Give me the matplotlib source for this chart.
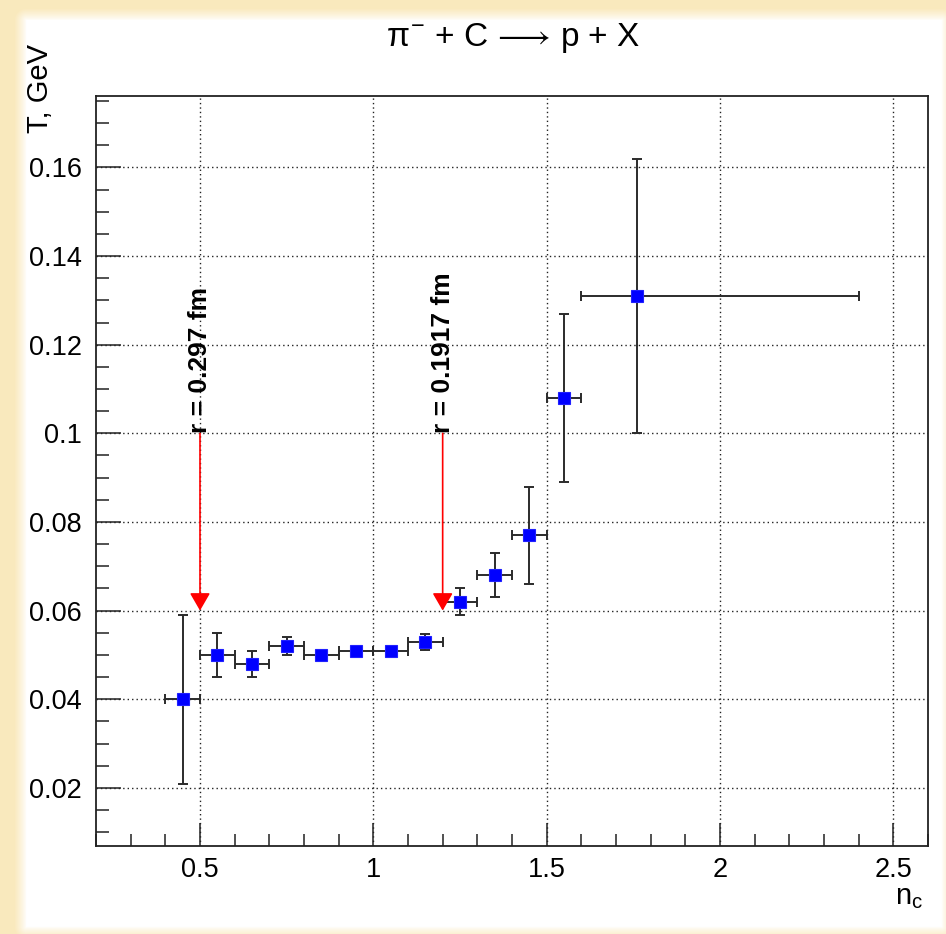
import numpy as np
import matplotlib
matplotlib.use("Agg")
import matplotlib.pyplot as plt
from matplotlib.ticker import MultipleLocator, FuncFormatter

plt.rcParams['font.family'] = ['Liberation Sans', 'DejaVu Sans']
plt.rcParams['mathtext.fontset'] = 'custom'
plt.rcParams['mathtext.rm'] = 'Liberation Sans'
plt.rcParams['mathtext.it'] = 'Liberation Sans'
plt.rcParams['mathtext.bf'] = 'Liberation Sans:bold'

# ---- data ----
n_c = [0.45, 0.55, 0.65, 0.75, 0.85, 0.95, 1.05, 1.15, 1.25, 1.35, 1.45, 1.55, 1.76]
T = [0.040, 0.050, 0.048, 0.052, 0.050, 0.051, 0.051, 0.053, 0.062, 0.068, 0.077, 0.108, 0.131]
T_err = [0.019, 0.005, 0.003, 0.002, 0.0005, 0.0005, 0.0005, 0.0018, 0.003, 0.005, 0.011, 0.019, 0.031]
n_err_lo = [0.05, 0.05, 0.05, 0.05, 0.05, 0.05, 0.05, 0.05, 0.05, 0.05, 0.05, 0.05, 0.16]
n_err_hi = [0.05, 0.05, 0.05, 0.05, 0.05, 0.05, 0.05, 0.05, 0.05, 0.05, 0.05, 0.05, 0.64]
arrow_x = [0.5, 1.2]
arrow_labels = ["r = 0.297 fm", "r = 0.1917 fm"]
arrow_top = 0.1
arrow_bottom = 0.06

W, H = 946, 934
fig = plt.figure(figsize=(W / 100, H / 100), dpi=100)

# background: pale yellow border glow with white centre
bg = fig.add_axes([0, 0, 1, 1], zorder=-10)
yy, xx = np.mgrid[0:H, 0:W].astype(float)
x0, x1, y0, y1 = 26, 940, 20, 926
dx = np.maximum(np.maximum(x0 - xx, xx - x1), 0)
dy = np.maximum(np.maximum(y0 - yy, yy - y1), 0)
d = np.sqrt(dx ** 2 + dy ** 2)
a = np.clip(d / 12.0, 0, 1) ** 0.8
yellow = np.array([0.98, 0.915, 0.745])
img = np.ones((H, W, 3)) * (1 - a[..., None]) + yellow * a[..., None]
bg.imshow(img, extent=[0, 1, 0, 1], aspect='auto', interpolation='bilinear')
bg.axis('off')

ax = fig.add_axes([96 / W, 1 - 846 / H, (928 - 96) / W, (846 - 96) / H])
ax.set_xlim(0.2, 2.6)
ax.set_ylim(0.0069, 0.1761)

ax.xaxis.set_major_locator(MultipleLocator(0.5))
ax.xaxis.set_minor_locator(MultipleLocator(0.1))
ax.yaxis.set_major_locator(MultipleLocator(0.02))
ax.yaxis.set_minor_locator(MultipleLocator(0.005))

def fmt(v, pos):
    s = ("%.2f" % v).rstrip('0').rstrip('.')
    return s
ax.xaxis.set_major_formatter(FuncFormatter(fmt))
ax.yaxis.set_major_formatter(FuncFormatter(fmt))

ax.tick_params(which='both', direction='in', top=False, right=False, color='#222222', width=1.1)
ax.tick_params(axis='y', which='major', length=18, pad=10, labelsize=19.5)
ax.tick_params(axis='y', which='minor', length=9.5)
ax.tick_params(axis='x', which='major', length=16.5, pad=8, labelsize=19.5)
ax.tick_params(axis='x', which='minor', length=8.5)
for s in ax.spines.values():
    s.set_color('#222222')
    s.set_linewidth(1.3)

ax.grid(True, which='major', color='#222222', linestyle=(0, (1, 2.2)), linewidth=1.0)
ax.set_axisbelow(True)

ax.errorbar(n_c, T, yerr=T_err, xerr=[n_err_lo, n_err_hi], fmt='none',
            ecolor='#2b2b2b', elinewidth=1.4, capsize=3.5, capthick=1.4, zorder=3)
ax.plot(n_c, T, linestyle='none', marker='s', markersize=9.3, color='#0000ff',
        markeredgecolor='#2020ff', markeredgewidth=0.8, zorder=4)

for xa, lab in zip(arrow_x, arrow_labels):
    ax.annotate('', xy=(xa, arrow_bottom), xytext=(xa, arrow_top),
                arrowprops=dict(arrowstyle='-|>,head_length=0.45,head_width=0.26',
                                color='#ff0000', lw=1.2, mutation_scale=24,
                                shrinkA=0, shrinkB=0), zorder=5)
    ax.text(xa, arrow_top, lab, rotation=90, ha='center', va='bottom',
            fontsize=19, fontweight='bold', color='black', zorder=6)

fig.text(513 / W, 1 - 38 / H, r"$\pi^{-}$ + C$\,\longrightarrow\,$p + X", ha='center', va='center',
         fontsize=24)
fig.text(40 / W, 1 - 44 / H, "T, GeV", rotation=90, ha='center', va='top', fontsize=21)
fig.text(923 / W, 1 - 897 / H, r"n$_{\rm c}$", ha='right', va='center', fontsize=21)

fig.savefig("out.png", dpi=100)
